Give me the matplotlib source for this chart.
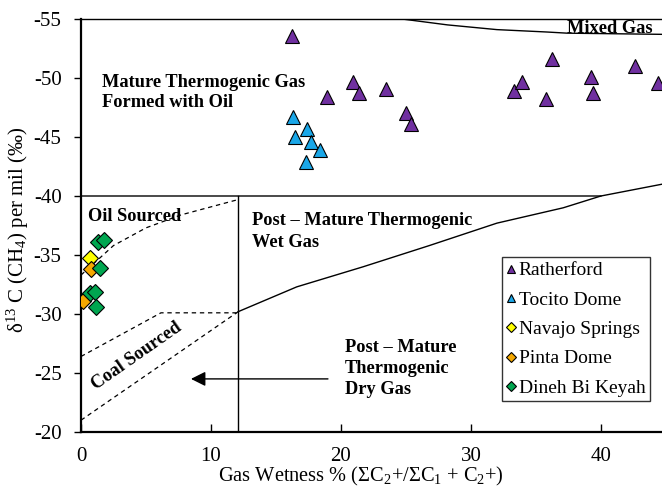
import matplotlib
matplotlib.use("Agg")
import matplotlib.pyplot as plt

# ---------------- data ----------------
ratherford_x = [16.2, 18.9, 20.9, 21.4, 23.5, 25.0, 25.4, 33.3, 33.9, 35.8, 36.2, 39.2, 39.4, 42.6, 44.4]
ratherford_y = [-53.6, -48.4, -49.7, -48.7, -49.1, -47.0, -46.1, -48.9, -49.7, -48.2, -51.6, -50.1, -48.7, -51.0, -49.6]

tocito_x = [16.3, 16.5, 17.4, 17.7, 18.4, 17.3]
tocito_y = [-46.7, -45.0, -45.7, -44.6, -43.9, -42.9]

navajo_x = [0.7]
navajo_y = [-34.75]

pinta_x = [0.8, 0.15]
pinta_y = [-33.8, -31.1]

dineh_x = [1.3, 1.8, 1.45, 0.7, 1.05, 1.15]
dineh_y = [-36.1, -36.3, -33.9, -31.8, -31.9, -30.6]

series_names = ["Ratherford", "Tocito Dome", "Navajo Springs", "Pinta Dome", "Dineh Bi Keyah"]

# field boundaries (x, y)
oil_gas_x = [0, 40, 44.7]
oil_gas_y = [-40, -40, -41.0]
wet_dry_x = [12.1, 16.6, 21.7, 26.8, 32.0, 37.1, 40.0]
wet_dry_y = [-30.2, -32.3, -34.0, -35.8, -37.7, -39.0, -40.0]
vertical_x = [12.1, 12.1]
vertical_y = [-40, -20]
mixed_x = [24.7, 28.2, 32.0, 35.8, 37.4, 44.7]
mixed_y = [-55.0, -54.5, -54.1, -53.9, -53.8, -53.7]
oil_src_x = [0, 2.5, 5.0, 7.7, 12.1]
oil_src_y = [-33.3, -35.8, -37.3, -38.4, -39.7]
coal_up_x = [0, 6.15, 12.1]
coal_up_y = [-26.4, -30.1, -30.1]
coal_lo_x = [0, 12.1]
coal_lo_y = [-21.0, -30.2]

x_ticks = [0, 10, 20, 30, 40]
y_ticks = [-55, -50, -45, -40, -35, -30, -25, -20]

# ---------------- style ----------------
plt.rcParams['font.family'] = ['Liberation Serif', 'DejaVu Serif']
plt.rcParams['mathtext.fontset'] = 'custom'
plt.rcParams['mathtext.rm'] = 'Liberation Serif'
plt.rcParams['mathtext.it'] = 'Liberation Serif:italic'
plt.rcParams['mathtext.bf'] = 'Liberation Serif:bold'
plt.rcParams['axes.unicode_minus'] = False

FS_AX = 15
FS_XL = 14.7
FS_ANN = 13.2
FS_LEG = 14

fig = plt.figure(figsize=(6.62, 4.96), dpi=100)
ax = fig.add_axes([81/662, 1 - 432/496, 1 - 81/662, (432 - 19)/496])

colors = ["#7030A0", "#1AA7E8", "#FFFF00", "#F5A800", "#00A650"]
ax.plot(ratherford_x, ratherford_y, linestyle='none', marker='^', ms=10.5, mfc=colors[0], mec='black', mew=0.8, label=series_names[0], zorder=5)
ax.plot(tocito_x, tocito_y, linestyle='none', marker='^', ms=10.5, mfc=colors[1], mec='black', mew=0.8, label=series_names[1], zorder=5)
ax.plot(navajo_x, navajo_y, linestyle='none', marker='D', ms=8.5, mfc=colors[2], mec='black', mew=0.8, label=series_names[2], zorder=5)
ax.plot(pinta_x, pinta_y, linestyle='none', marker='D', ms=8.5, mfc=colors[3], mec='black', mew=0.8, label=series_names[3], zorder=5)
ax.plot(dineh_x, dineh_y, linestyle='none', marker='D', ms=8.5, mfc=colors[4], mec='black', mew=0.8, label=series_names[4], zorder=5)

lw = 1.0
ax.plot(oil_gas_x, oil_gas_y, color='black', lw=lw)
ax.plot(wet_dry_x, wet_dry_y, color='black', lw=lw)
ax.plot(vertical_x, vertical_y, color='black', lw=lw)
ax.plot(mixed_x, mixed_y, color='black', lw=lw)
ax.plot(oil_src_x, oil_src_y, color='black', lw=0.9, ls=(0, (3.5, 3)))
ax.plot(coal_up_x, coal_up_y, color='black', lw=0.9, ls=(0, (3.5, 3)))
ax.plot(coal_lo_x, coal_lo_y, color='black', lw=0.9, ls=(0, (3.5, 3)))

ax.annotate("", xy=(8.46, -24.5), xytext=(19.0, -24.5),
            arrowprops=dict(arrowstyle='-|>', color='black', lw=1.0,
                            mutation_scale=22, shrinkA=0, shrinkB=0))

tb = dict(fontsize=FS_ANN, fontweight='bold', va='baseline', ha='left')
ax.text(1.6, -49.24, "Mature Thermogenic Gas", **tb)
ax.text(1.6, -47.54, "Formed with Oil", **tb)
ax.text(0.55, -37.88, "Oil Sourced", **tb)
ax.text(13.15, -37.54, "Post \u2013 Mature Thermogenic", **tb)
ax.text(13.15, -35.68, "Wet Gas", **tb)
ax.text(37.4, -53.8, "Mixed Gas", **tb)
ax.text(20.3, -26.8, "Post \u2013 Mature", **tb)
ax.text(20.3, -25.0, "Thermogenic", **tb)
ax.text(20.3, -23.2, "Dry Gas", **tb)
ax.text(4.3, -26.4, "Coal Sourced", fontsize=FS_ANN, fontweight='bold', rotation=35,
        ha='center', va='center', rotation_mode='anchor')

ax.set_xlim(0, 44.7)
ax.set_ylim(-20, -55)
ax.set_xticks(x_ticks)
ax.set_yticks(y_ticks)
ax.tick_params(axis='x', direction='in', length=6, width=1.0, labelsize=FS_AX, pad=11)
ax.tick_params(axis='y', direction='out', length=5, width=1.0, labelsize=FS_AX, pad=9)
ax.spines['right'].set_visible(False)
for s in ['left', 'bottom']:
    ax.spines[s].set_linewidth(1.6)
ax.spines['top'].set_linewidth(1.0)

ax.set_xlabel("Gas Wetness % (\u03a3C$_2$+/\u03a3C$_1$ + C$_2$+)", fontsize=FS_XL)
ax.xaxis.set_label_coords(0.481, -0.081)
ax.set_ylabel("\u03b4$^{13}$ C (CH$_4$) per mil (\u2030)", fontsize=FS_AX)
ax.yaxis.set_label_coords(-0.086, 0.49)

leg = ax.legend(loc='upper left', bbox_to_anchor=((502 - 81)/581, 1 - (257 - 19)/413),
                fontsize=FS_LEG, frameon=True, fancybox=False, edgecolor='black',
                markerscale=0.55, handlelength=0.45, handletextpad=0.15,
                labelspacing=0.6, borderpad=0.25, borderaxespad=0)
leg.get_frame().set_linewidth(1.0)
leg.set_zorder(10)

fig.savefig("out.png", dpi=100)
